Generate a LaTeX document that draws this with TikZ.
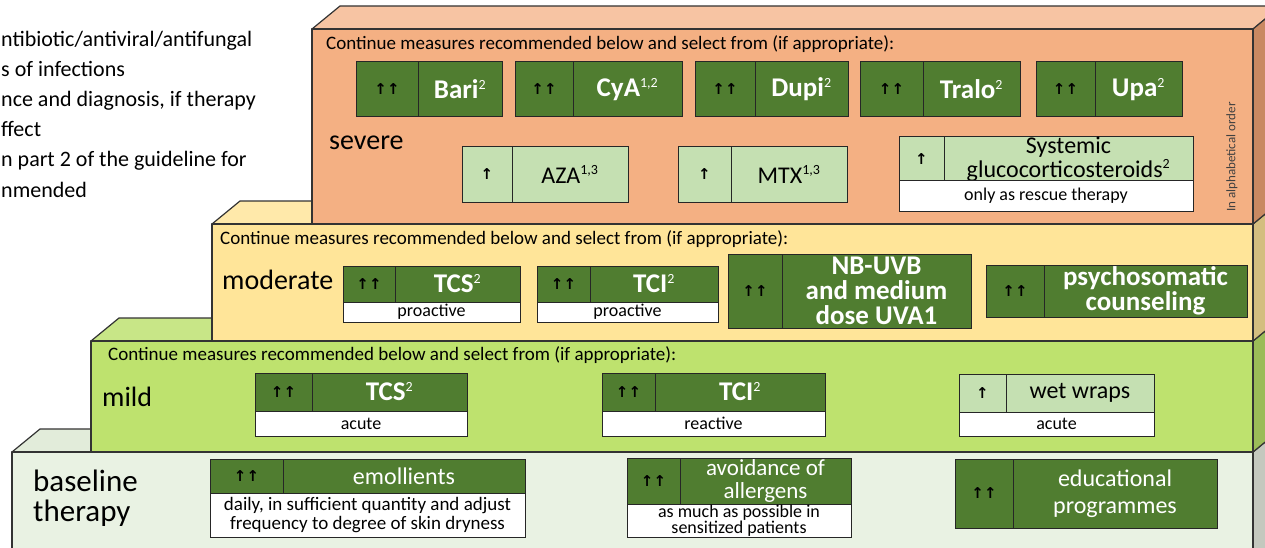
\documentclass[tikz,border=0pt]{standalone}
\usepackage{fontspec}
\setmainfont{Carlito}
\newfontfamily\arrowfont{DejaVu Sans}
\usetikzlibrary{positioning}
\definecolor{SevereFront}{RGB}{244,176,131}
\definecolor{SevereTop}{RGB}{247,196,163}
\definecolor{SevereSide}{RGB}{201,137,98}
\definecolor{ModerateFront}{RGB}{255,229,153}
\definecolor{ModerateTop}{RGB}{255,233,170}
\definecolor{ModerateSide}{RGB}{212,190,128}
\definecolor{MildFront}{RGB}{190,226,110}
\definecolor{MildTop}{RGB}{200,230,135}
\definecolor{MildSide}{RGB}{155,188,88}
\definecolor{BaseFront}{RGB}{233,242,227}
\definecolor{BaseTop}{RGB}{226,236,218}
\definecolor{BaseSide}{RGB}{196,200,190}
\definecolor{RecDark}{RGB}{80,125,48}
\definecolor{RecLight}{RGB}{197,224,178}
\newcommand\recsup[1]{\textsuperscript{\mdseries\fontsize{14}{14}\selectfont #1}}

\tikzset{
  cell/.style={draw=black!85,line width=1pt,inner sep=0pt,outer sep=0pt,anchor=north west,align=center},
  dark/.style={cell,fill=RecDark,text=white},
  light/.style={cell,fill=RecLight,text=black},
  note/.style={cell,fill=white,text=black,font=\fontsize{18}{18}\selectfont},
  arr/.style={text=black,font=\arrowfont\bfseries\fontsize{15}{15}\selectfont},
  boldlab/.style={font=\bfseries\fontsize{27}{25}\selectfont},
  reglab/.style={font=\fontsize{24}{24}\selectfont},
  level/.style={draw=black!80,line width=1.2pt,line join=round},
  contin/.style={anchor=west,inner sep=0pt,font=\fontsize{19}{19}\selectfont},
  lvlname/.style={anchor=west,inner sep=0pt,align=left,font=\fontsize{28}{30}\selectfont},
  side/.style={anchor=base west,inner sep=0pt,font=\fontsize{22}{22}\selectfont}
}

\begin{document}
\begin{tikzpicture}[x=1pt,y=-1pt]
\useasboundingbox (0,0) rectangle (1265,548);

% the four stacked levels, bottom first
\foreach \lvl/\xl/\yt/\yb in {Base/12/452/580,Mild/91/341/452,Moderate/212/224/341,Severe/312/29/224}{
  \filldraw[level,fill=\lvl Top] (\xl,\yt) -- ++(28,-23) -- (1281,\yt-23) -- (1253,\yt) -- cycle;
  \filldraw[level,fill=\lvl Side] (1253,\yt) -- (1281,\yt-23) -- (1281,\yb-23) -- (1253,\yb) -- cycle;
  \filldraw[level,fill=\lvl Front] (\xl,\yt) rectangle (1253,\yb);
}

% cut-off legend on the left
\node[side] (lg1) at (1,47) {ntibiotic/antiviral/antifungal};
\node[side] (lg2) at (1,77) {s of infections};
\node[side] (lg3) at (1,107) {nce and diagnosis, if therapy};
\node[side] (lg4) at (1,137) {ffect};
\node[side] (lg5) at (1,167) {n part 2 of the guideline for};
\node[side] (lg6) at (1,197) {nmended};

% severe
\node[contin] (sevtxt) at (326,44) {Continue measures recommended below and select from (if appropriate):};
\node[lvlname] (sevname) at (329,143) {severe};
\node[rotate=90,inner sep=0pt,text=black!75,font=\fontsize{13}{13}\selectfont] (alpha) at (1232,157) {In alphabetical order};

\node[dark,arr,minimum width=62,minimum height=55] (bariA) at (356,62) {↑↑};
\node[dark,boldlab,minimum width=84,minimum height=55] (bariL) at (bariA.north east) {Bari\recsup{2}};
\node[dark,arr,minimum width=58,minimum height=55] (cyaA) at (515,62) {↑↑};
\node[dark,boldlab,minimum width=109,minimum height=55] (cyaL) at (cyaA.north east) {CyA\recsup{1,2}};
\node[dark,arr,minimum width=60,minimum height=55] (dupiA) at (695,62) {↑↑};
\node[dark,boldlab,minimum width=93,minimum height=55] (dupiL) at (dupiA.north east) {Dupi\recsup{2}};
\node[dark,arr,minimum width=63,minimum height=55] (traloA) at (860,62) {↑↑};
\node[dark,boldlab,minimum width=97,minimum height=55] (traloL) at (traloA.north east) {Tralo\recsup{2}};
\node[dark,arr,minimum width=59,minimum height=55] (upaA) at (1036,62) {↑↑};
\node[dark,boldlab,minimum width=87,minimum height=55] (upaL) at (upaA.north east) {Upa\recsup{2}};

\node[light,arr,minimum width=50,minimum height=55] (azaA) at (462,147) {↑};
\node[light,reglab,minimum width=116,minimum height=55] (azaL) at (azaA.north east) {AZA\recsup{1,3}};
\node[light,arr,minimum width=53,minimum height=55] (mtxA) at (678,147) {↑};
\node[light,reglab,minimum width=116,minimum height=55] (mtxL) at (mtxA.north east) {MTX\recsup{1,3}};
\node[light,arr,minimum width=45,minimum height=44] (gcsA) at (899,137) {↑};
\node[light,reglab,minimum width=249,minimum height=44] (gcsL) at (gcsA.north east) {Systemic\\glucocorticosteroids\recsup{2}};
\node[note,minimum width=294,minimum height=30] (gcsN) at (gcsA.south west) {only as rescue therapy};

% moderate
\node[contin] (modtxt) at (220,239) {Continue measures recommended below and select from (if appropriate):};
\node[lvlname] (modname) at (222,280) {moderate};

\node[dark,arr,minimum width=52,minimum height=36] (tcsmA) at (343,266) {↑↑};
\node[dark,boldlab,minimum width=125,minimum height=36] (tcsmL) at (tcsmA.north east) {TCS\recsup{2}};
\node[note,minimum width=177,minimum height=20] (tcsmN) at (tcsmA.south west) {proactive};
\node[dark,arr,minimum width=53,minimum height=36] (tcimA) at (537,266) {↑↑};
\node[dark,boldlab,minimum width=128,minimum height=36] (tcimL) at (tcimA.north east) {TCI\recsup{2}};
\node[note,minimum width=181,minimum height=20] (tcimN) at (tcimA.south west) {proactive};
\node[dark,arr,minimum width=54,minimum height=74] (uvA) at (728,254) {↑↑};
\node[dark,boldlab,minimum width=189,minimum height=74] (uvL) at (uvA.north east) {NB-UVB\\and medium\\dose UVA1};
\node[dark,arr,minimum width=58,minimum height=52] (psyA) at (986,265) {↑↑};
\node[dark,boldlab,minimum width=203,minimum height=52] (psyL) at (psyA.north east) {psychosomatic\\counseling};

% mild
\node[contin] (miltxt) at (108,355) {Continue measures recommended below and select from (if appropriate):};
\node[lvlname] (milname) at (102,397) {mild};

\node[dark,arr,minimum width=57,minimum height=38] (tcsaA) at (255,373) {↑↑};
\node[dark,boldlab,minimum width=155,minimum height=38] (tcsaL) at (tcsaA.north east) {TCS\recsup{2}};
\node[note,minimum width=212,minimum height=25] (tcsaN) at (tcsaA.south west) {acute};
\node[dark,arr,minimum width=53,minimum height=38] (tcirA) at (602,373) {↑↑};
\node[dark,boldlab,minimum width=170,minimum height=38] (tcirL) at (tcirA.north east) {TCI\recsup{2}};
\node[note,minimum width=223,minimum height=25] (tcirN) at (tcirA.south west) {reactive};
\node[light,arr,minimum width=47,minimum height=38] (wetA) at (959,374) {↑};
\node[light,font=\fontsize{24}{24}\selectfont,minimum width=148,minimum height=38] (wetL) at (wetA.north east) {wet wraps};
\node[note,minimum width=195,minimum height=24] (wetN) at (wetA.south west) {acute};

% baseline therapy
\node[lvlname,font=\fontsize{31}{30}\selectfont] (basename) at (33,498) {baseline\\therapy};

\node[dark,arr,minimum width=73,minimum height=34] (emoA) at (210,459) {↑↑};
\node[dark,font=\fontsize{24}{24}\selectfont,minimum width=242,minimum height=34] (emoL) at (emoA.north east) {emollients};
\node[note,font=\fontsize{19}{19}\selectfont,minimum width=315,minimum height=44] (emoN) at (emoA.south west) {daily, in sufficient quantity and adjust\\frequency to degree of skin dryness};
\node[dark,arr,minimum width=53,minimum height=46] (allA) at (627,458) {↑↑};
\node[dark,font=\fontsize{23}{23}\selectfont,minimum width=171,minimum height=46] (allL) at (allA.north east) {avoidance of\\allergens};
\node[note,font=\fontsize{18}{16}\selectfont,minimum width=224,minimum height=33] (allN) at (allA.south west) {as much as possible in\\sensitized patients};
\node[dark,arr,minimum width=58,minimum height=69] (eduA) at (955,459) {↑↑};
\node[dark,font=\fontsize{24}{27}\selectfont,minimum width=204,minimum height=69] (eduL) at (eduA.north east) {educational\\programmes};

\end{tikzpicture}
\end{document}
